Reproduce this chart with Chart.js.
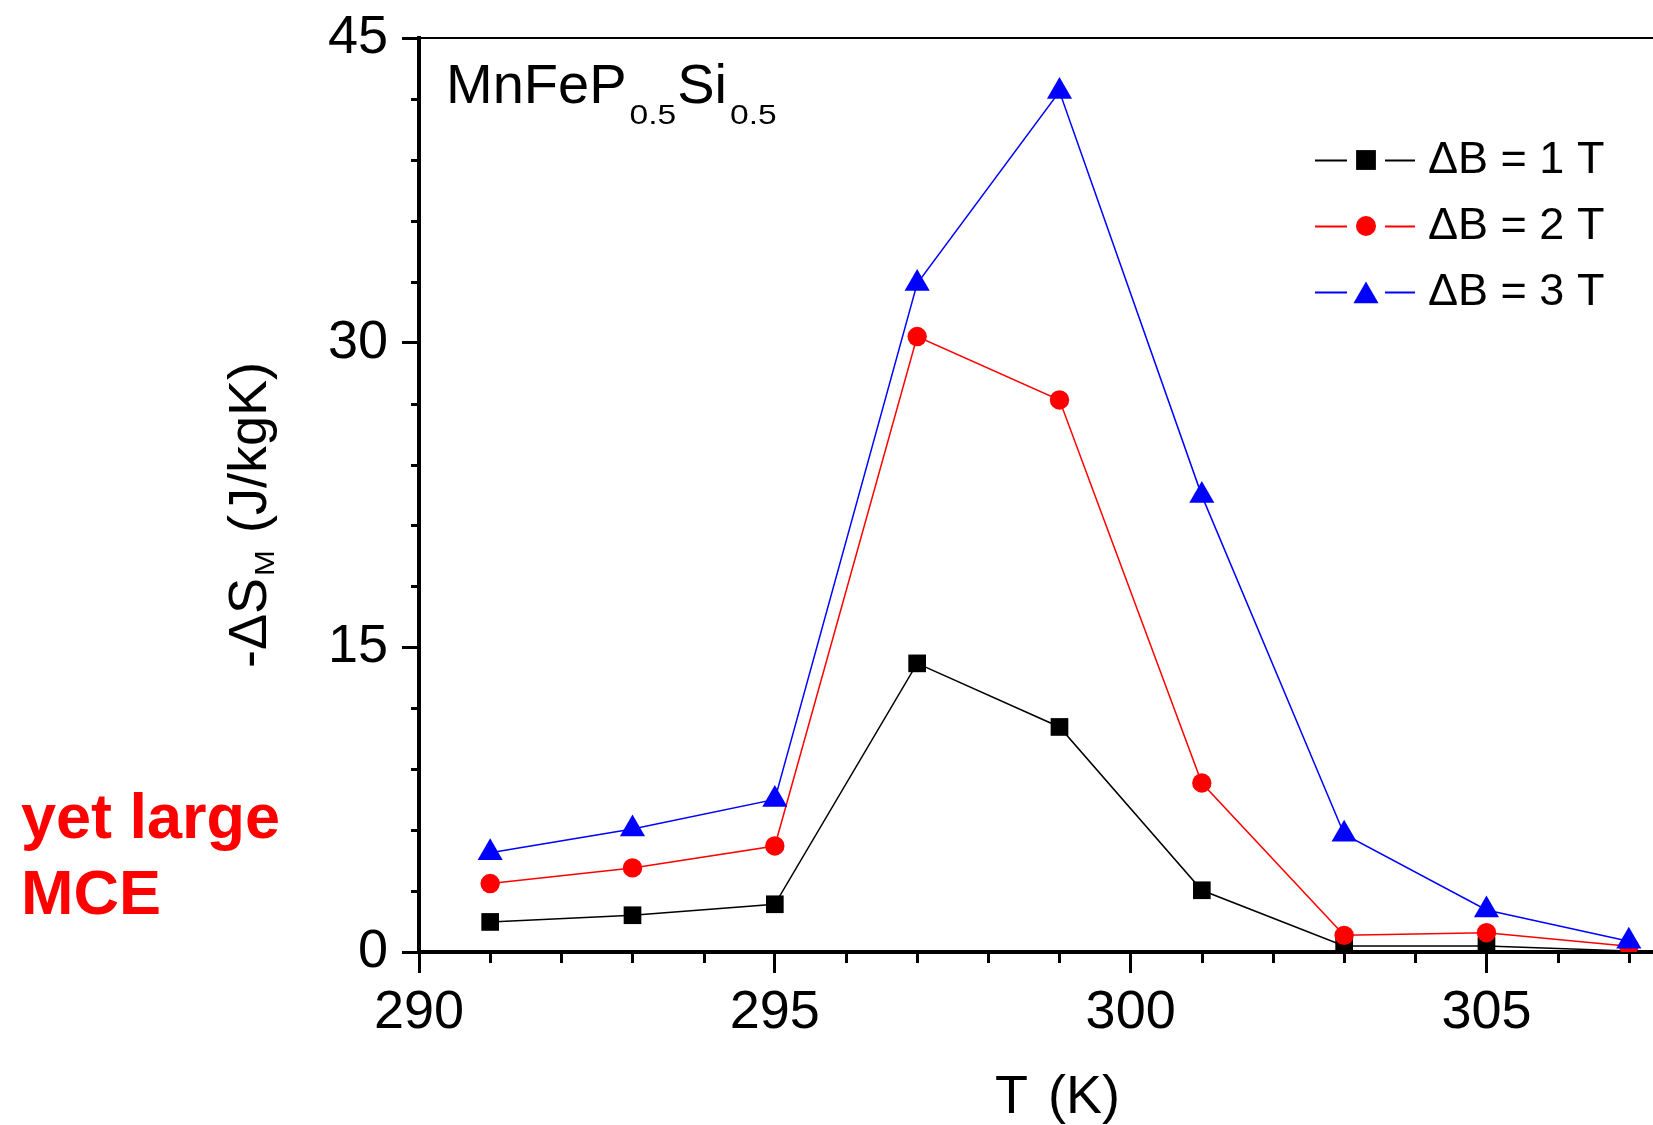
<!DOCTYPE html>
<html>
<head>
<meta charset="utf-8">
<script src="https://cdn.jsdelivr.net/npm/chart.js@4/dist/chart.umd.min.js"></script>
<style>
  html, body { margin: 0; padding: 0; background: #fff; }
  canvas { display: block; }
</style>
</head>
<body>
<canvas id="mceChart" width="1653" height="1125"></canvas>
<script>
// temperatures (K) and -dS_M (J/kgK)
const temps = [291, 293, 295, 297, 299, 301, 303, 305, 307];
const dS1T = [1.48, 1.81, 2.35, 14.21, 11.08, 3.04, 0.30, 0.30, 0.05];
const dS2T = [3.37, 4.14, 5.22, 30.30, 27.18, 8.32, 0.82, 0.95, 0.28];
const dS3T = [4.89, 6.06, 7.51, 32.91, 42.36, 22.47, 5.80, 2.07, 0.53];

const seriesLabels = ['\u0394B = 1 T', '\u0394B = 2 T', '\u0394B = 3 T'];
const seriesColors = ['#000000', '#ff0000', '#0000ff'];

// axis ticks
const xMajorTicks = [290, 295, 300, 305];
const xMinorTicks = [291, 292, 293, 294, 296, 297, 298, 299, 301, 302, 303, 304, 306, 307];
const yMajorTicks = [0, 15, 30, 45];
const yMinorTicks = [3, 6, 9, 12, 18, 21, 24, 27, 33, 36, 39, 42];

const FONT = '"Liberation Sans", Arial, Helvetica, sans-serif';

function toPoints(values) {
    return temps.map((t, i) => ({ x: t, y: values[i] }));
}

// extra drawing: minor ticks, top frame line, texts and the legend
const decorations = {
    id: 'decorations',
    afterDraw(chart) {
        const ctx = chart.ctx;
        const area = chart.chartArea;
        const xs = chart.scales.x;
        const ys = chart.scales.y;

        ctx.save();
        ctx.strokeStyle = '#000';
        ctx.lineWidth = 3;
        // minor ticks
        xMinorTicks.forEach(v => {
            const px = Math.round(xs.getPixelForValue(v)) + 0.5;
            ctx.beginPath();
            ctx.moveTo(px, area.bottom);
            ctx.lineTo(px, area.bottom + 11);
            ctx.stroke();
        });
        yMinorTicks.forEach(v => {
            const py = Math.round(ys.getPixelForValue(v)) + 0.5;
            ctx.beginPath();
            ctx.moveTo(area.left, py);
            ctx.lineTo(area.left - 8, py);
            ctx.stroke();
        });
        // top frame line
        ctx.lineWidth = 2;
        ctx.beginPath();
        ctx.moveTo(area.left, area.top);
        ctx.lineTo(area.right, area.top);
        ctx.stroke();

        ctx.fillStyle = '#000';
        ctx.textBaseline = 'alphabetic';
        ctx.textAlign = 'left';

        // stretched small subscript
        function sub(text, x, y, size, sx) {
            ctx.save();
            ctx.font = size + 'px ' + FONT;
            ctx.translate(x, y);
            ctx.scale(sx, 1);
            ctx.fillText(text, 0, 0);
            const w = ctx.measureText(text).width * sx;
            ctx.restore();
            return w;
        }

        // compound label
        let cx = 446;
        ctx.font = '56px ' + FONT;
        ctx.fillText('MnFeP', cx, 103);
        cx += ctx.measureText('MnFeP').width + 3;
        cx += sub('0.5', cx, 124, 28, 1.2) + 1;
        ctx.font = '56px ' + FONT;
        ctx.fillText('Si', cx, 103);
        cx += ctx.measureText('Si').width + 3;
        sub('0.5', cx, 124, 28, 1.2);

        // x axis title
        ctx.font = '54px ' + FONT;
        ctx.fillText('T', 995, 1113);
        ctx.textAlign = 'right';
        ctx.fillText('(K)', 1120, 1113);
        ctx.textAlign = 'left';

        // y axis title (rotated)
        ctx.save();
        ctx.translate(266, 668);
        ctx.rotate(-Math.PI / 2);
        ctx.font = '54px ' + FONT;
        ctx.fillText('-\u0394S', 0, 0);
        let u = ctx.measureText('-\u0394S').width + 2;
        u += sub('M', u, 8, 27, 1.15) + 2;
        ctx.font = '54px ' + FONT;
        ctx.fillText(' (J/kgK)', u, 0);
        ctx.restore();

        // legend
        const styles = ['rect', 'circle', 'triangle'];
        const radii = [14, 10, 14.5];
        seriesLabels.forEach((label, i) => {
            const ly = 160 + 66 * i;
            ctx.strokeStyle = seriesColors[i];
            ctx.fillStyle = seriesColors[i];
            ctx.lineWidth = 2;
            ctx.beginPath();
            ctx.moveTo(1315, ly + 0.5);
            ctx.lineTo(1347, ly + 0.5);
            ctx.moveTo(1385, ly + 0.5);
            ctx.lineTo(1415, ly + 0.5);
            ctx.stroke();
            Chart.helpers.drawPoint(ctx, {
                pointStyle: styles[i], rotation: 0, radius: radii[i], borderWidth: 0
            }, 1366, styles[i] === 'triangle' ? ly + 4 : ly);
            ctx.fillStyle = '#000';
            ctx.font = '45px ' + FONT;
            ctx.fillText(label, 1428, 173 + 66 * i);
        });

        // side note
        ctx.fillStyle = '#ff0000';
        ctx.font = 'bold 63px ' + FONT;
        ctx.fillText('yet large', 21, 838);
        ctx.fillText('MCE', 21, 914);
        ctx.restore();
    }
};

const ctx = document.getElementById('mceChart').getContext('2d');

new Chart(ctx, {
    type: 'line',
    data: {
        datasets: [
            {
                label: seriesLabels[0],
                data: toPoints(dS1T),
                borderColor: seriesColors[0],
                backgroundColor: seriesColors[0],
                borderWidth: 1.5,
                pointStyle: 'rect',
                pointRadius: 12.5,
                pointBorderWidth: 0,
                order: 2
            },
            {
                label: seriesLabels[1],
                data: toPoints(dS2T),
                borderColor: seriesColors[1],
                backgroundColor: seriesColors[1],
                borderWidth: 1.5,
                pointStyle: 'circle',
                pointRadius: 9.7,
                pointBorderWidth: 0,
                order: 1
            },
            {
                label: seriesLabels[2],
                data: toPoints(dS3T),
                borderColor: seriesColors[2],
                backgroundColor: seriesColors[2],
                borderWidth: 1.5,
                pointStyle: 'triangle',
                pointRadius: 14.5,
                pointBorderWidth: 0,
                order: 0
            }
        ]
    },
    options: {
        responsive: false,
        animation: false,
        devicePixelRatio: 1,
        layout: { autoPadding: false, padding: { top: 38, right: 0, bottom: 0, left: 0 } },
        elements: { line: { tension: 0 } },
        datasets: { line: { clip: { left: 30, top: 30, right: 30, bottom: 0 } } },
        plugins: {
            legend: { display: false },
            tooltip: { enabled: false },
            title: { display: false }
        },
        scales: {
            x: {
                type: 'linear',
                min: 290,
                max: 307.34,
                z: 1,
                afterBuildTicks: s => { s.ticks = xMajorTicks.map(v => ({ value: v })); },
                afterFit: s => {
                    s.height = 173;
                    s.paddingLeft = 0;
                    s.paddingRight = 0;
                },
                grid: { drawOnChartArea: false, drawTicks: true, tickLength: 21, lineWidth: 3, color: '#000' },
                border: { display: true, color: '#000', width: 4 },
                ticks: {
                    color: '#000',
                    font: { family: FONT, size: 54 },
                    padding: 8,
                    maxRotation: 0,
                    autoSkip: false
                }
            },
            y: {
                min: 0,
                max: 45,
                z: 1,
                afterBuildTicks: s => { s.ticks = yMajorTicks.map(v => ({ value: v })); },
                afterFit: s => {
                    s.width = 419;
                    s.paddingTop = 0;
                    s.paddingBottom = 0;
                },
                grid: { drawOnChartArea: false, drawTicks: true, tickLength: 17, lineWidth: 3, color: '#000' },
                border: { display: true, color: '#000', width: 4 },
                ticks: {
                    color: '#000',
                    font: { family: FONT, size: 54 },
                    padding: 14,
                    autoSkip: false
                }
            }
        }
    },
    plugins: [decorations]
});
</script>
</body>
</html>
